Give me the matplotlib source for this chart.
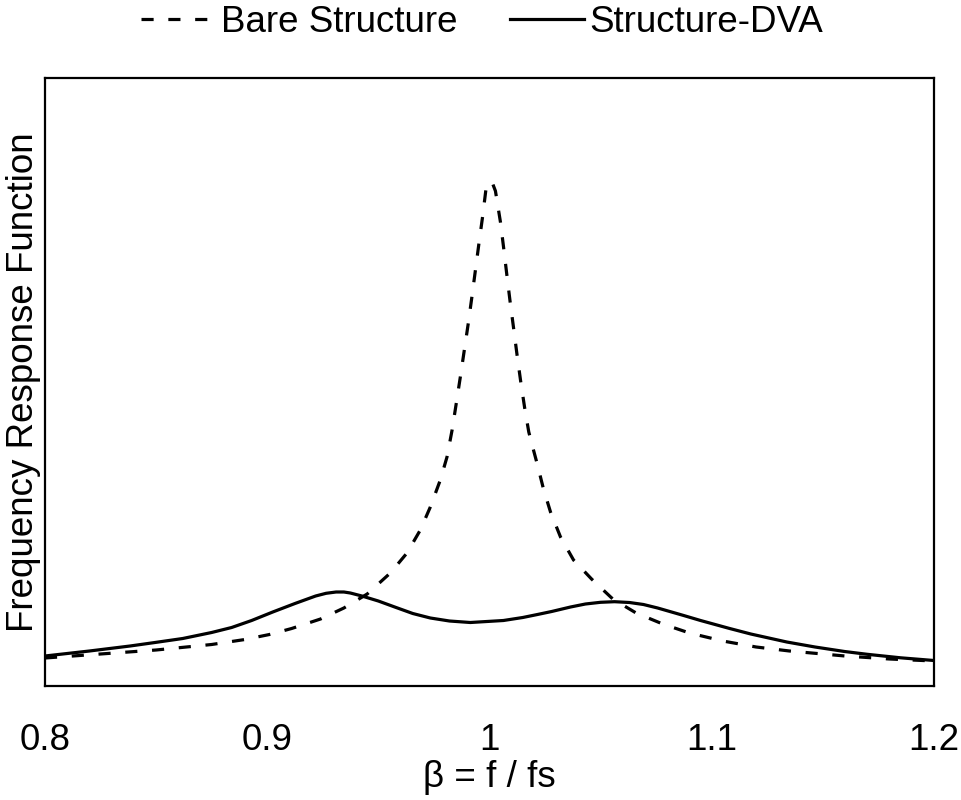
import matplotlib
matplotlib.use("Agg")
import matplotlib.pyplot as plt

plt.rcParams['font.family'] = ['Liberation Sans', 'DejaVu Sans']

# Bare structure: frequency ratio (beta) and response (pixel rows)
bare_beta = [0.800, 0.825, 0.850, 0.875, 0.890, 0.901, 0.911, 0.924, 0.9345, 0.945,
             0.9554, 0.9629, 0.9689, 0.9734, 0.9779, 0.9809, 0.9832, 0.9851, 0.9869, 0.9887,
             0.9905, 0.9921, 0.9937, 0.9953, 0.9969, 0.9985, 0.9995, 1.0005, 1.0015, 1.0027,
             1.00495, 1.0064, 1.00784, 1.00932, 1.01086, 1.01243, 1.0141, 1.01586, 1.0177, 1.01982,
             1.02162, 1.02432, 1.02748, 1.03198, 1.03784, 1.04595, 1.0555, 1.066, 1.078, 1.090,
             1.105, 1.120, 1.135, 1.160, 1.180, 1.200]
bare_px = [658, 654, 650, 644.5, 639.5, 634.5, 628.5, 619, 608, 594,
           573, 553, 530, 507, 480, 457, 430, 403, 377, 350,
           323, 297, 270, 243, 217, 188, 182.5, 181.5, 184, 191,
           222, 248, 275, 302, 328, 355, 382, 408, 432, 450,
           465, 489, 512, 537, 560, 579, 599, 613, 624, 633,
           641, 647, 651, 656, 659, 661]

# Structure with DVA
dva_beta = [0.800, 0.820, 0.8383, 0.8495, 0.862, 0.875, 0.884, 0.893, 0.9025, 0.9125,
            0.9218, 0.9265, 0.931, 0.9345, 0.9374, 0.9426, 0.950, 0.958, 0.9655, 0.9734,
            0.982, 0.9914, 1.0063, 1.015, 1.0216, 1.028, 1.0365, 1.0432, 1.050, 1.0563,
            1.063, 1.0693, 1.0757, 1.0874, 1.095, 1.1081, 1.1176, 1.1338, 1.1465, 1.1598,
            1.170, 1.185, 1.200]
dva_px = [656, 651, 646, 642.5, 638.5, 632.5, 627.5, 620.5, 612, 603.5,
          596, 593.3, 592, 592, 593, 596, 601, 607.5, 613.5, 618,
          621, 622.5, 620.5, 617.5, 614.5, 611.5, 607, 604, 602.3, 601.7,
          602.5, 604.5, 608, 615.5, 620.5, 628.5, 634, 642, 647, 651.5,
          654.3, 657.8, 660.5]

# convert read values to response units (0 at axis bottom)
bare_frf = [(686 - p) / 60.8 for p in bare_px]
dva_frf = [(686 - p) / 60.8 for p in dva_px]

xticks = [0.8, 0.9, 1.0, 1.1, 1.2]
xticklabels = ['0.8', '0.9', '1', '1.1', '1.2']

fs = 26.5
fig = plt.figure(figsize=(9.61, 8.0), dpi=100)
ax = fig.add_axes([0.0468, 0.1425, 0.925, 0.76])

lw = 2.3
ax.plot(bare_beta, bare_frf, color='black', lw=lw, linestyle=(0, (3.8, 4.6)),
        label='Bare Structure', solid_joinstyle='round')
ax.plot(dva_beta, dva_frf, color='black', lw=lw, linestyle='-', label='Structure-DVA',
        solid_joinstyle='round')

ax.set_xlim(0.8, 1.2)
ax.set_ylim(0, 10)
ax.set_xticks(xticks)
ax.set_xticklabels(xticklabels)
ax.set_yticks([])
ax.tick_params(axis='x', length=0, pad=27, labelsize=fs)
for s in ax.spines.values():
    s.set_linewidth(1.6)

ax.set_xlabel('β = f / fs', fontsize=fs, labelpad=1)
ax.set_ylabel('Frequency Response Function', fontsize=fs, labelpad=3)

leg = fig.legend(loc='upper center', bbox_to_anchor=(0.502, 1.035), ncol=2, frameon=False,
                 fontsize=fs, handlelength=2.0, handletextpad=0.15, columnspacing=1.45)

fig.savefig('out.png', dpi=100)
